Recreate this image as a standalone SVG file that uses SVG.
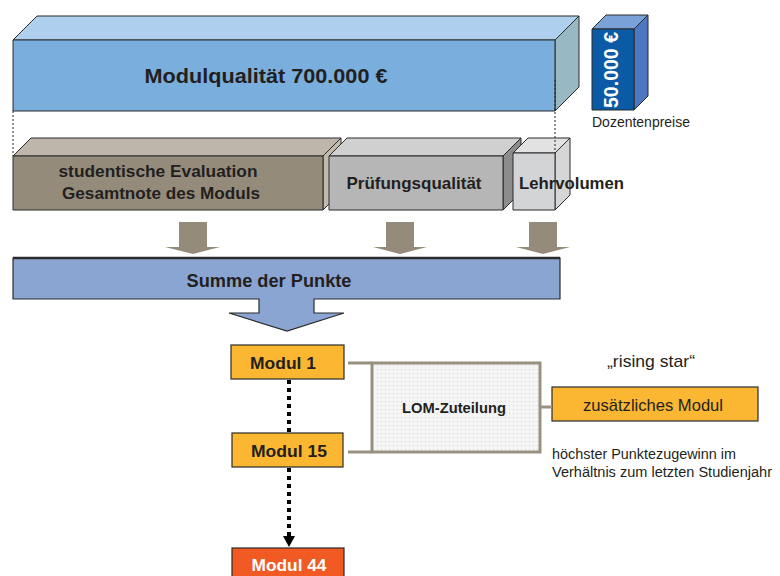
<svg xmlns="http://www.w3.org/2000/svg" width="780" height="576" viewBox="0 0 780 576">
<defs>
<style>
.t{font-family:"Liberation Sans",Arial,sans-serif;fill:#231f20}
.b{font-weight:bold}
.w{fill:#ffffff}
.edge{stroke:#2b2b2b;stroke-width:1;stroke-linejoin:round}
.mod{fill:#fbb731;stroke:#2b2b2b;stroke-width:1.2}
.gray{stroke:#9a9080;stroke-width:3;fill:none}
.dots{stroke:#000;stroke-width:4;stroke-dasharray:4 4;fill:none}
.guide{stroke:#222;stroke-width:1;stroke-dasharray:2 2;fill:none}
.barrow{fill:#958b7b}
</style>
<pattern id="dotpat" width="4" height="4" patternUnits="userSpaceOnUse">
<rect width="4" height="4" fill="#f5f5f5"/>
<rect x="1" y="1" width="1" height="1" fill="#d4d4d4"/>
</pattern>
</defs>
<rect width="780" height="576" fill="#ffffff"/>

<g id="modulqualitaet">
<polygon class="edge" points="13,40 37,16 579,16 555,40" fill="#aed0ee"/>
<polygon class="edge" points="555,40 579,16 579,87 555,111" fill="#98b8c4"/>
<rect class="edge" x="13" y="40" width="542" height="71" fill="#7aaedc"/>
<text class="t b" x="266" y="83" font-size="21" text-anchor="middle" textLength="243" lengthAdjust="spacingAndGlyphs">Modulqualität  700.000 €</text>
</g>

<g id="dozentenpreise">
<polygon class="edge" points="592,29 606,15 648,15 634,29" fill="#7aa2d8"/>
<polygon class="edge" points="634,29 648,15 648,96 634,110" fill="#4b78c0"/>
<rect class="edge" x="592" y="29" width="42" height="81" fill="#0b5aa5"/>
<text class="t b w" transform="translate(618,70) rotate(-90)" x="0" y="0" font-size="20" text-anchor="middle" textLength="76" lengthAdjust="spacingAndGlyphs">50.000 €</text>
<text class="t" x="592" y="127" font-size="14" textLength="98" lengthAdjust="spacingAndGlyphs">Dozentenpreise</text>
</g>

<g id="studentische-evaluation">
<polygon class="edge" points="13,156 31,138 341,138 323,156" fill="#beb6ab"/>
<polygon class="edge" points="323,156 341,138 341,192 323,210" fill="#c2baad"/>
<rect class="edge" x="13" y="156" width="310" height="54" fill="#958b7b"/>
<text class="t b" x="158" y="177" font-size="17" text-anchor="middle" textLength="199" lengthAdjust="spacingAndGlyphs">studentische  Evaluation</text>
<text class="t b" x="161" y="199" font-size="17" text-anchor="middle" textLength="198" lengthAdjust="spacingAndGlyphs">Gesamtnote des Moduls</text>
</g>

<g id="pruefungsqualitaet">
<polygon class="edge" points="329,156 347,138 521,138 503,156" fill="#d0d0d0"/>
<polygon class="edge" points="503,156 521,138 521,192 503,210" fill="#8c8c8c"/>
<rect class="edge" x="329" y="156" width="174" height="54" fill="#b6b6b6"/>
<text class="t b" x="414" y="189" font-size="17" text-anchor="middle" textLength="135" lengthAdjust="spacingAndGlyphs">Prüfungsqualität</text>
</g>

<g id="lehrvolumen">
<polygon class="edge" points="513,153 528,138 570,138 555,153" fill="#e2e2e2"/>
<polygon class="edge" points="555,153 570,138 570,195 555,210" fill="#d6d6d6"/>
<rect class="edge" x="513" y="153" width="42" height="57" fill="#d3d4d6"/>
<text class="t b" x="519" y="189" font-size="17" textLength="105" lengthAdjust="spacingAndGlyphs">Lehrvolumen</text>
</g>

<g id="summe-der-punkte">
<path d="M13,258 H560 V299 H314 V313 H344 L287,331 L229,313 H259 V299 H13 Z" fill="#8ba5d3" stroke="#2b2b2b" stroke-width="1.2" stroke-linejoin="miter"/>
<line x1="13" y1="258" x2="560" y2="258" stroke="#2b2b2b" stroke-width="2.5"/>
<text class="t b" x="269" y="287" font-size="18" text-anchor="middle" textLength="165" lengthAdjust="spacingAndGlyphs">Summe der Punkte</text>
</g>

<g id="modul-1">
<rect class="mod" x="231" y="345" width="113" height="34"/>
<text class="t b" x="283" y="369" font-size="17" text-anchor="middle" textLength="66" lengthAdjust="spacingAndGlyphs">Modul 1</text>
</g>

<g id="modul-15">
<rect class="mod" x="232" y="433" width="111" height="34"/>
<text class="t b" x="289" y="457" font-size="17" text-anchor="middle" textLength="76" lengthAdjust="spacingAndGlyphs">Modul 15</text>
</g>

<g id="modul-44">
<rect x="232" y="548" width="112" height="40" fill="#f15a22" stroke="#2b2b2b" stroke-width="1.2"/>
<text class="t b w" x="289" y="571" font-size="16" text-anchor="middle" textLength="75" lengthAdjust="spacingAndGlyphs">Modul 44</text>
</g>

<g id="lom-zuteilung">
<rect x="372" y="363" width="168" height="89" fill="url(#dotpat)" stroke="#9a9080" stroke-width="3"/>
<text class="t b" x="454" y="413" font-size="14" text-anchor="middle" textLength="104" lengthAdjust="spacingAndGlyphs">LOM-Zuteilung</text>
</g>

<g id="zusaetzliches-modul">
<text class="t" x="651" y="367" font-size="17" text-anchor="middle" textLength="88" lengthAdjust="spacingAndGlyphs">„rising star“</text>
<rect class="mod" x="552" y="387" width="206" height="34"/>
<text class="t" x="653" y="411" font-size="17" text-anchor="middle" textLength="140" lengthAdjust="spacingAndGlyphs">zusätzliches Modul</text>
<text class="t" x="552" y="459" font-size="14" textLength="184" lengthAdjust="spacingAndGlyphs">höchster Punktezugewinn im</text>
<text class="t" x="552" y="477" font-size="14" textLength="220" lengthAdjust="spacingAndGlyphs">Verhältnis zum letzten Studienjahr</text>
</g>

<g id="connectors">
<path class="guide" d="M13,111 V156"/>
<path class="guide" d="M555,80 V153"/>
<path class="barrow" d="M179,222 H207 V247 H220 L193,254 L165,247 H179 Z"/>
<path class="barrow" d="M386,222 H414 V247 H427 L400,254 L373,247 H386 Z"/>
<path class="barrow" d="M529,222 H557 V247 H570 L543,254 L516,247 H529 Z"/>
<path class="dots" d="M289,380 V432"/>
<path class="dots" d="M289,468 V536"/>
<polygon points="283,536 295,536 289,547" fill="#000"/>
<path class="gray" d="M348,363 H372"/>
<path class="gray" d="M348,452 H372"/>
<path class="gray" d="M540,407 H552"/>
</g>
</svg>
